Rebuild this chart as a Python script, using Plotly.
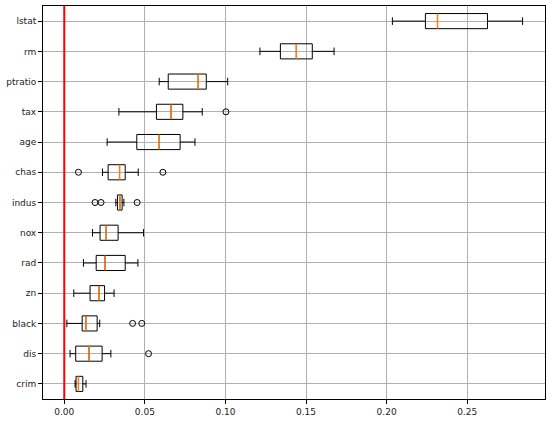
import plotly.graph_objects as go

features = ["crim", "dis", "black", "zn", "rad", "nox", "indus", "chas",
            "age", "tax", "ptratio", "rm", "lstat"]
lower = [0.0067, 0.0036, 0.0016, 0.0059, 0.0119, 0.0175, 0.0320, 0.0237,
         0.0266, 0.0339, 0.0589, 0.1214, 0.2036]
q1 = [0.0073, 0.0071, 0.0111, 0.0160, 0.0198, 0.0222, 0.0330, 0.0272,
      0.0450, 0.0572, 0.0645, 0.1341, 0.2241]
median = [0.0088, 0.0154, 0.0134, 0.0216, 0.0253, 0.0260, 0.0345, 0.0343,
          0.0589, 0.0663, 0.0831, 0.1440, 0.2316]
q3 = [0.0115, 0.0235, 0.0204, 0.0250, 0.0378, 0.0334, 0.0359, 0.0378,
      0.0719, 0.0736, 0.0881, 0.1539, 0.2626]
upper = [0.0135, 0.0289, 0.0220, 0.0309, 0.0457, 0.0492, 0.0370, 0.0459,
         0.0811, 0.0856, 0.1014, 0.1674, 0.2844]
outliers = {
    "dis": [0.0523],
    "black": [0.0424, 0.0481],
    "indus": [0.0191, 0.0228, 0.0452],
    "chas": [0.0088, 0.0612],
    "tax": [0.1003],
}
ref_value = 0.0
xticks = [0.00, 0.05, 0.10, 0.15, 0.20, 0.25]

positions = list(range(1, len(features) + 1))
box_w = 0.5

fig = go.Figure()
fig.add_trace(go.Box(
    orientation="h",
    y=positions,
    q1=q1, median=median, q3=q3, lowerfence=lower, upperfence=upper,
    width=box_w, whiskerwidth=0.5,
    line=dict(color="black", width=1),
    fillcolor="rgba(255,255,255,0)",
    boxpoints=False, showlegend=False, hoverinfo="skip",
))

mx, my = [], []
for p, m in zip(positions, median):
    mx += [m, m, None]
    my += [p - box_w / 2, p + box_w / 2, None]
fig.add_trace(go.Scatter(x=mx, y=my, mode="lines",
                         line=dict(color="#ff7f0e", width=1.5),
                         showlegend=False, hoverinfo="skip"))

ox, oy = [], []
for name, vals in outliers.items():
    p = positions[features.index(name)]
    for v in vals:
        ox.append(v)
        oy.append(p)
fig.add_trace(go.Scatter(x=ox, y=oy, mode="markers",
                         marker=dict(symbol="circle-open", color="black", size=6,
                                     line=dict(width=1)),
                         showlegend=False, hoverinfo="skip"))

fig.add_shape(type="line", xref="x", yref="paper", x0=ref_value, x1=ref_value,
              y0=0, y1=1, line=dict(color="red", width=2))

fig.update_layout(
    template="none",
    width=552, height=422,
    margin=dict(l=43, r=7, t=6, b=23, autoexpand=False),
    plot_bgcolor="white", paper_bgcolor="white",
    font=dict(family="DejaVu Sans", size=9, color="#222222"),
    showlegend=False,
)
fig.update_xaxes(range=[-0.0132, 0.2983], tickvals=xticks,
                 ticktext=[f"{t:.2f}" for t in xticks],
                 showgrid=True, gridcolor="#b0b0b0", gridwidth=0.8,
                 zeroline=False, showline=True, linecolor="black", linewidth=1,
                 mirror=True, ticks="outside", ticklen=4, tickcolor="black",
                 automargin=False)
fig.update_yaxes(range=[0.5, 13.5], tickvals=positions, ticktext=features,
                 showgrid=True, gridcolor="#b0b0b0", gridwidth=0.8,
                 zeroline=False, showline=True, linecolor="black", linewidth=1,
                 mirror=True, ticks="outside", ticklen=4, tickcolor="black",
                 automargin=False)

fig.write_html("out.html", config={"displayModeBar": False},
               post_script="document.body.style.margin='0';")
